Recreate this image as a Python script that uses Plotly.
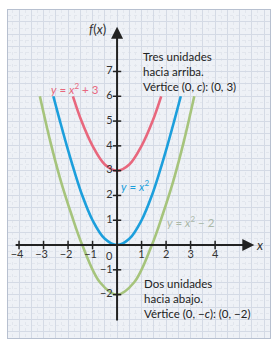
import plotly.graph_objects as go

# Curve points (x, f(x))
red_x = [-1.80, -1.45, -1.00, -0.50, 0.00, 0.50, 1.00, 1.45, 1.80]
red_y = [6.0, 5.0, 4.0, 3.25, 3.0, 3.25, 4.0, 5.0, 6.0]

blue_x = [-2.60, -2.33, -2.05, -1.75, -1.42, -1.00, -0.50, 0.00, 0.50, 1.00, 1.42, 1.75, 2.05, 2.33, 2.60]
blue_y = [6.0, 5.0, 4.0, 3.0, 2.0, 1.0, 0.25, 0.0, 0.25, 1.0, 2.0, 3.0, 4.0, 5.0, 6.0]

green_x = [-3.15, -2.73, -2.30, -1.85, -1.42, -0.70, 0.00, 0.70, 1.42, 1.85, 2.30, 2.73, 3.15]
green_y = [6.0, 4.2, 2.6, 1.2, 0.0, -1.5, -2.0, -1.5, 0.0, 1.2, 2.6, 4.2, 6.0]

x_ticks = [-4, -3, -2, -1, 1, 2, 3, 4]
x_tick_labels = ["−4", "−3", "−2", "−1", "1", "2", "3", "4"]
y_ticks = [-2, -1, 1, 2, 3, 4, 5, 6, 7]
y_tick_labels = ["−2", "−1", "1", "2", "3", "4", "5", "6", "7"]

RED = "#e8677d"
BLUE = "#1c9fdc"
GREEN = "#a6c47c"

fig = go.Figure()

for xs, ys, c in [(green_x, green_y, GREEN), (blue_x, blue_y, BLUE), (red_x, red_y, RED)]:
    fig.add_trace(go.Scatter(x=xs, y=ys, mode="lines",
                             line=dict(color=c, width=2.6, shape="spline", smoothing=1.0),
                             hoverinfo="skip", showlegend=False))

# axes lines with arrows
fig.add_annotation(x=5.6, y=0, ax=-4.2, ay=0, xref="x", yref="y", axref="x", ayref="y",
                   showarrow=True, arrowhead=2, arrowsize=1.2, arrowwidth=2, arrowcolor="#222", text="")
fig.add_annotation(x=0, y=8.8, ax=0, ay=-3.1, xref="x", yref="y", axref="x", ayref="y",
                   showarrow=True, arrowhead=2, arrowsize=1.2, arrowwidth=2, arrowcolor="#222", text="")

# tick marks
tx, ty = [], []
for v in x_ticks:
    tx += [v, v, None]
    ty += [-0.17, 0.17, None]
for v in y_ticks:
    tx += [-0.17, 0.17, None]
    ty += [v, v, None]
fig.add_trace(go.Scatter(x=tx, y=ty, mode="lines", line=dict(color="#222", width=1.5),
                         hoverinfo="skip", showlegend=False))

# tick labels
fig.add_trace(go.Scatter(x=[v - (0.08 if v < 0 else 0) for v in x_ticks], y=[-0.42] * len(x_ticks),
                         mode="text", text=x_tick_labels,
                         textfont=dict(family="Lato", size=11, color="#333"),
                         hoverinfo="skip", showlegend=False))
fig.add_trace(go.Scatter(x=[-0.18] * len(y_ticks), y=y_ticks, mode="text", text=y_tick_labels,
                         textposition="middle left",
                         textfont=dict(family="Lato", size=11, color="#333"),
                         hoverinfo="skip", showlegend=False))
fig.add_annotation(x=-0.3, y=-0.42, text="0", showarrow=False,
                   font=dict(family="Lato", size=11, color="#333"))

# axis names
fig.add_annotation(x=5.85, y=0.02, text="<i>x</i>", showarrow=False,
                   font=dict(family="Lato", size=13, color="#333"))
fig.add_annotation(x=-0.8, y=8.7, text="<i>f</i>(<i>x</i>)", showarrow=False,
                   font=dict(family="Lato", size=13, color="#333"))

# curve labels
fig.add_annotation(x=-1.7, y=6.33, text="<i>y</i> = <i>x</i><sup>2</sup> + 3", showarrow=False,
                   font=dict(family="Lato", size=11.5, color=RED))
fig.add_annotation(x=0.75, y=2.42, text="<i>y</i> = <i>x</i><sup>2</sup>", showarrow=False,
                   font=dict(family="Lato", size=11.5, color=BLUE))
fig.add_annotation(x=3.0, y=0.93, text="<i>y</i> = <i>x</i><sup>2</sup> − 2", showarrow=False,
                   font=dict(family="Lato", size=11.5, color="#aab8a8"))

# explanatory texts
fig.add_annotation(x=0.98, y=7.95, xanchor="left", yanchor="top", align="left",
                   text="Tres unidades<br>hacia arriba.<br>Vértice (0, <i>c</i>): (0, 3)",
                   showarrow=False, font=dict(family="Lato", size=11.5, color="#222"))
fig.add_annotation(x=1.0, y=-1.2, xanchor="left", yanchor="top", align="left",
                   text="Dos unidades<br>hacia abajo.<br>Vértice (0, −<i>c</i>): (0, −2)",
                   showarrow=False, font=dict(family="Lato", size=11.5, color="#222"))

axis_common = dict(showticklabels=False, ticks="", zeroline=False,
                   showgrid=True, gridcolor="#d4dae5", gridwidth=1, tick0=0, dtick=0.5,
                   minor=dict(dtick=0.25, showgrid=True, gridcolor="#e2e6ed", griddash="dot", gridwidth=1),
                   showline=True, linecolor="#b7c0d0", linewidth=1, mirror=True, fixedrange=True)

fig.update_xaxes(range=[-4.45, 6.24], **axis_common)
fig.update_yaxes(range=[-3.75, 9.48], **axis_common)

fig.update_layout(width=278, height=345, margin=dict(l=8, r=8, t=10, b=7),
                  paper_bgcolor="white", plot_bgcolor="#eef1f6", showlegend=False)

fig.write_html("out.html")
